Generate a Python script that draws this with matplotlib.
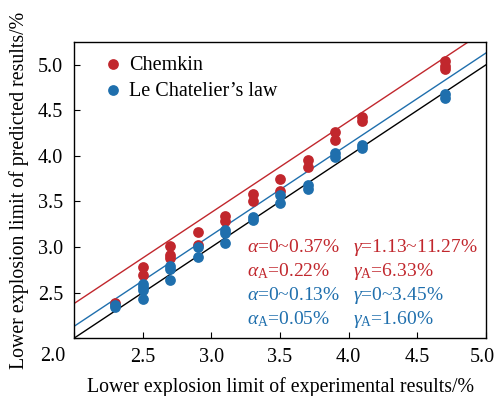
import matplotlib
matplotlib.use("Agg")
import matplotlib.pyplot as plt
import matplotlib.transforms as mtransforms
import numpy as np

plt.rcParams["font.family"] = ["Liberation Serif", "DejaVu Serif"]
plt.rcParams["mathtext.fontset"] = "custom"
plt.rcParams["mathtext.rm"] = "Liberation Serif"
plt.rcParams["mathtext.it"] = "Liberation Serif:italic"

RED = "#c1272d"
BLUE = "#1f6fad"

# experimental LEL and predicted values
chemkin_x = [2.3, 2.5, 2.5, 2.7, 2.7, 2.7, 2.9, 2.9, 3.1, 3.1,
             3.3, 3.3, 3.5, 3.5, 3.7, 3.7, 3.9, 3.9, 4.1, 4.1,
             4.7, 4.7, 4.7]
chemkin_y = [2.39, 2.78, 2.69, 3.01, 2.91, 2.875, 3.17, 3.02, 3.34, 3.29,
             3.58, 3.51, 3.75, 3.62, 3.96, 3.88, 4.26, 4.175, 4.43, 4.385,
             5.04, 4.985, 4.95]

lechat_x = [2.3, 2.3, 2.5, 2.5, 2.5, 2.5, 2.7, 2.7, 2.7, 2.9, 2.9,
            3.1, 3.1, 3.1, 3.3, 3.3, 3.5, 3.5, 3.7, 3.7, 3.9, 3.9,
            4.1, 4.1, 4.7, 4.7]
lechat_y = [2.36, 2.34, 2.59, 2.56, 2.53, 2.43, 2.79, 2.755, 2.64, 2.995, 2.89,
            3.19, 3.15, 3.04, 3.33, 3.30, 3.57, 3.48, 3.68, 3.64, 4.03, 3.985,
            4.12, 4.09, 4.68, 4.63]

# offsets of the guide lines (slope 1)
chemkin_offset = 0.38
lechat_offset = 0.13

ticks = [2.0, 2.5, 3.0, 3.5, 4.0, 4.5, 5.0]
tick_labels = ["", "2.5", "3.0", "3.5", "4.0", "4.5", "5.0"]

fig = plt.figure(figsize=(4.97, 3.96), dpi=100)
ax = fig.add_axes([0.149, 0.146, 0.829, 0.748])

xs = np.array([2.0, 5.0])
ax.plot(xs, xs, color="black", lw=1.0, zorder=2)
ax.plot(xs, xs + lechat_offset, color=BLUE, lw=1.0, zorder=2)
ax.plot(xs, xs + chemkin_offset, color=RED, lw=1.0, zorder=2)

ax.scatter(chemkin_x, chemkin_y, s=60, color=RED, lw=0, zorder=3,
           label="Chemkin")
ax.scatter(lechat_x, lechat_y, s=60, color=BLUE, lw=0, zorder=4,
           label="Le Chatelier\u2019s law")

ax.set_xlim(2.0, 5.0)
ax.set_ylim(2.0, 5.25)
ax.set_xticks(ticks, tick_labels)
ax.set_yticks(ticks, tick_labels)
ax.tick_params(direction="in", labelsize=14.5, length=4, width=0.8)
ax.tick_params(axis="x", pad=7)
ax.tick_params(axis="y", pad=8)
for sp in ax.spines.values():
    sp.set_linewidth(1.0)

# keep the last x label inside the figure
last = ax.get_xticklabels()[-1]
last.set_transform(last.get_transform()
                   + mtransforms.ScaledTranslation(-3 / 72, 0, fig.dpi_scale_trans))

# shared origin label at the corner
ax.text(-0.052, -0.062, "2.0", transform=ax.transAxes, fontsize=14.5,
        ha="center", va="center")

ax.set_xlabel("Lower explosion limit of experimental results/%", fontsize=14.3,
              labelpad=7)
ax.set_ylabel("Lower explosion limit of predicted results/%", fontsize=14.3,
              labelpad=6)

ax.legend(loc="upper left", frameon=False, fontsize=14.5, handlelength=1.0,
          handletextpad=0.3, borderaxespad=0.2, labelspacing=0.35,
          scatterpoints=1, bbox_to_anchor=(0.04, 0.995))

lines = [
    (r"$\alpha$=0~0.37%", r"$\gamma$=1.13~11.27%", RED),
    (r"$\alpha_\mathrm{A}$=0.22%", r"$\gamma_\mathrm{A}$=6.33%", RED),
    (r"$\alpha$=0~0.13%", r"$\gamma$=0~3.45%", BLUE),
    (r"$\alpha_\mathrm{A}$=0.05%", r"$\gamma_\mathrm{A}$=1.60%", BLUE),
]
for i, (left, right, col) in enumerate(lines):
    y = 3.00 - i * 0.265
    ax.text(3.26, y, left, color=col, fontsize=14, va="center")
    ax.text(4.03, y, right, color=col, fontsize=14, va="center")

fig.savefig("out.png", dpi=100)
